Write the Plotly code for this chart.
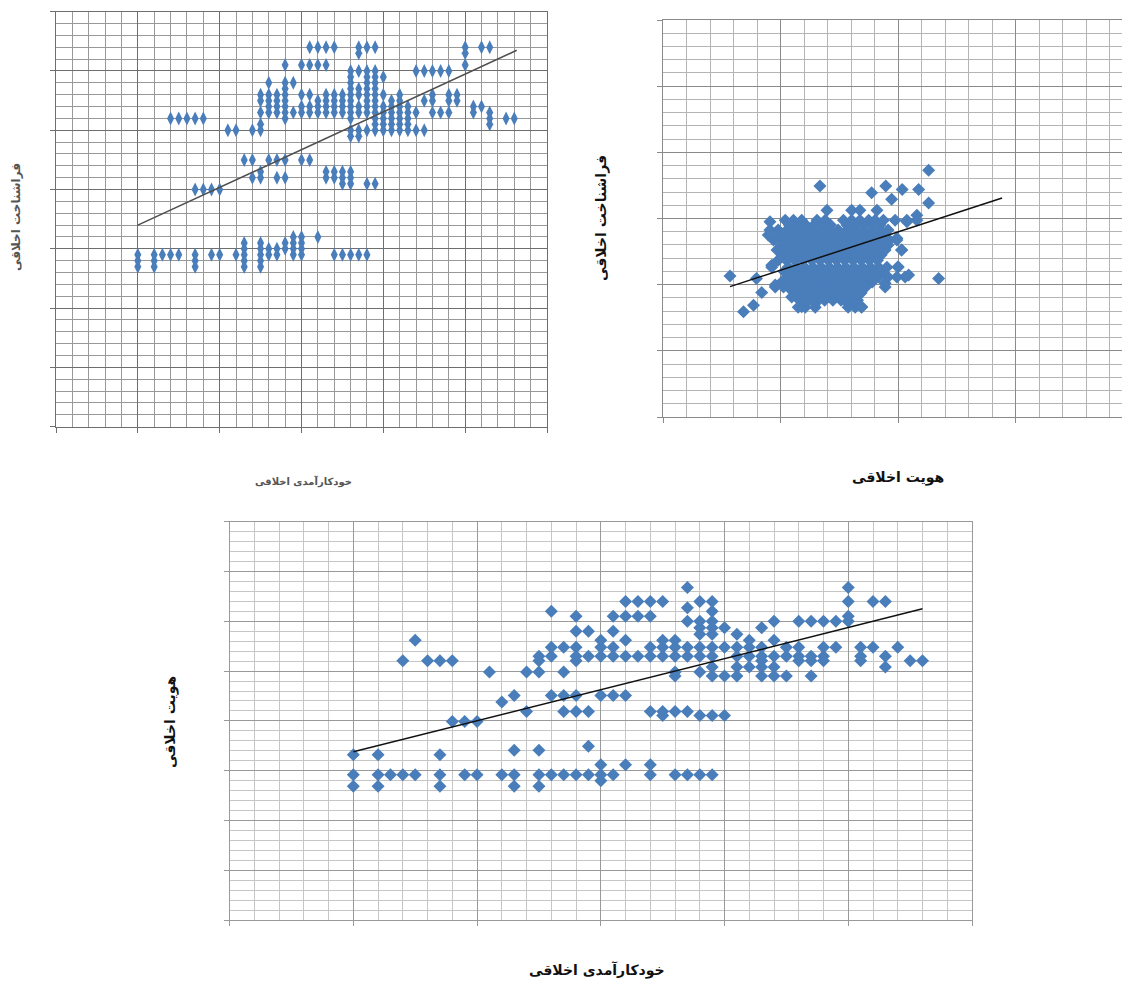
import plotly.graph_objects as go

# ---------------- Chart 1 (top-left): خودکارآمدی اخلاقی vs فراشناخت اخلاقی ----------------
c1_row_y = [64, 63, 61, 60, 59, 58, 57, 56, 55, 54, 53, 52, 51, 50, 49, 45, 43, 42, 41, 40,
            32, 31, 30, 29, 28, 27]
c1_row_x = [
    [31, 32, 33, 34, 37, 38, 39, 50, 52, 53],
    [37, 50],
    [28, 30, 31, 32, 33, 50],
    [36, 37, 38, 39, 44, 45, 46, 47, 48],
    [36, 38, 39, 40],
    [26, 28, 29, 36, 38, 39],
    [28, 36, 37, 38, 39],
    [25, 26, 27, 28, 30, 31, 33, 34, 35, 36, 37, 38, 39, 40, 42, 46, 48, 49],
    [25, 26, 27, 28, 32, 33, 34, 35, 36, 38, 39, 41, 42, 45, 46, 48, 49],
    [26, 27, 28, 30, 31, 32, 33, 34, 35, 36, 37, 38, 39, 40, 41, 42, 43, 51, 52],
    [25, 26, 27, 28, 29, 30, 31, 32, 33, 34, 35, 36, 37, 38, 39, 40, 41, 42, 43, 44, 46, 47, 48, 51, 53],
    [14, 15, 16, 17, 18, 28, 36, 39, 40, 41, 42, 43, 53, 55, 56],
    [25, 39, 40, 41, 42, 43, 53],
    [21, 22, 24, 25, 36, 37, 38, 39, 40, 41, 42, 43, 44, 45],
    [36, 37],
    [23, 24, 26, 27, 28, 30, 31],
    [25, 33, 34, 35, 36],
    [24, 25, 27, 28, 33, 34, 35, 36],
    [35, 36, 38, 39],
    [17, 18, 19, 20],
    [29, 30, 32],
    [23, 25, 28, 29, 30],
    [23, 25, 26, 27, 28, 29, 30],
    [10, 12, 13, 14, 15, 17, 19, 20, 22, 23, 25, 26, 27, 29, 30, 34, 35, 36, 37, 38],
    [10, 12, 17, 23, 25],
    [10, 12, 17, 23, 25],
]
c1_trend_x = [10, 56.3]
c1_trend_y = [34.0, 63.5]

# ---------------- Chart 2 (top-right): هویت اخلاقی vs فراشناخت اخلاقی ----------------
c2_row_y = [62.5, 59.5, 58.0, 56.5, 55.0, 53.5, 52.0, 50.5, 49.0, 47.4, 45.3, 44.0, 42.3,
            40.8, 39.3, 38.4, 37.5, 36.4, 35.3, 33.2]
c2_row_x = [
    [27.9, 32.1, 33.5, 36.4],
    [20.8, 22.2, 23.6, 26.2, 27.6, 30.7, 32.1, 33.5, 35.0, 36.1, 37.5, 39.5, 41.5, 43.2],
    [21.5, 22.9, 24.3, 25.7, 27.1, 28.5, 31.3, 32.7, 34.1, 35.5, 36.9],
    [18.2, 19.6, 21.1, 22.5, 23.9, 25.3, 27.0, 28.4, 29.8, 31.3, 32.7, 34.1, 35.5, 36.9, 38.3],
    [19.5, 20.9, 22.3, 23.7, 25.1, 26.5, 27.9, 29.3, 30.7, 32.1, 33.5, 34.9, 36.3, 37.7],
    [18.8, 20.2, 21.6, 23.0, 24.4, 25.8, 27.2, 28.6, 30.0, 31.4, 32.8, 34.2, 35.7, 37.1, 38.5, 39.8],
    [20.1, 21.5, 22.9, 24.3, 25.7, 27.1, 28.5, 29.9, 31.3, 32.7, 34.1, 35.5, 36.9, 38.3],
    [19.4, 20.8, 22.2, 23.6, 25.0, 26.4, 27.9, 29.3, 30.7, 32.1, 33.5, 34.9, 36.3, 37.8, 40.6],
    [20.3, 21.7, 23.1, 24.5, 25.9, 27.3, 28.7, 30.1, 31.5, 32.9, 34.3, 35.7, 37.1],
    [19.6, 21.0, 22.4, 23.8, 25.3, 26.7, 28.1, 29.5, 30.9, 32.3, 33.7, 35.1, 36.5],
    [18.5, 21.3, 22.7, 24.1, 25.5, 26.9, 28.3, 29.7, 31.1, 32.5, 33.9, 35.3, 36.7, 38.1, 40.0],
    [20.6, 22.0, 23.4, 24.8, 26.2, 27.6, 29.0, 30.4, 31.8, 33.2, 34.6, 36.0, 37.4],
    [21.3, 22.7, 24.1, 25.5, 26.9, 28.3, 29.7, 31.1, 32.5, 33.9, 35.3, 36.7, 38.3, 39.8, 41.2],
    [20.2, 21.6, 23.0, 24.4, 25.8, 27.2, 28.6, 30.0, 31.4, 32.8, 34.2, 35.6],
    [19.1, 20.5, 21.9, 23.3, 24.7, 26.1, 27.5, 28.9, 30.3, 31.7, 33.1, 34.5, 37.8],
    [21.8, 23.2, 24.6, 26.0, 27.4, 28.8, 30.2, 31.6, 33.0],
    [22.5, 23.9, 25.3, 26.7, 28.1, 29.5, 30.9, 32.3, 33.7],
    [22.6, 24.0, 25.4, 26.8, 28.2, 29.6, 31.0, 32.4],
    [23.3, 24.7, 26.1, 27.5, 28.9, 30.3, 31.7, 33.1],
    [23.0, 24.2, 25.9, 31.5, 32.7, 33.8],
]
c2_out_x = [45.2, 26.7, 37.9, 35.5, 40.7, 43.5, 38.9, 45.2, 18.2, 11.4, 46.9, 13.7, 15.4, 16.8,
            15.9, 43.2, 41.5, 41.8, 40.0, 40.6, 39.8, 37.8, 33.8, 31.5, 23.6, 25.9, 21.9, 19.1,
            18.5, 17.9]
c2_out_y = [74.6, 69.8, 69.8, 67.8, 68.8, 68.8, 65.8, 64.7, 59.0, 42.6, 41.9, 31.8, 33.8, 37.6,
            41.9, 61.0, 59.0, 42.9, 45.4, 50.5, 54.0, 40.4, 33.3, 34.3, 33.3, 34.3, 36.3, 39.9,
            45.9, 55.0]
c2_trend_x = [11.4, 57.7]
c2_trend_y = [39.4, 66.2]

# ---------------- Chart 3 (bottom): خودکارآمدی اخلاقی vs هویت اخلاقی ----------------
c3_row_y = [66.8, 64.0, 62.7, 62.0, 61.0, 60.0, 58.7, 58.0, 57.4, 56.2, 54.8, 53.0, 52.1, 50.8,
            49.8, 49.0, 45.1, 43.8, 41.9, 41.1, 39.9, 34.9, 34.1, 33.2, 31.2, 29.2, 28.0, 26.9]
c3_row_x = [
    [37, 50],
    [32, 33, 34, 35, 38, 39, 50, 52, 53],
    [37],
    [26, 39],
    [28, 31, 32, 33, 34, 50],
    [37, 38, 39, 44, 46, 47, 48, 49, 50],
    [38, 39, 40, 43],
    [28, 29, 31],
    [38, 39, 41],
    [15, 30, 32, 35, 36, 42, 44],
    [26, 27, 28, 30, 31, 34, 35, 36, 37, 38, 39, 40, 41, 42, 43, 45, 46, 48, 49, 51, 52, 54],
    [25, 26, 28, 29, 30, 31, 32, 33, 34, 35, 36, 37, 38, 39, 41, 42, 43, 44, 45, 46, 47, 48, 51, 53],
    [14, 16, 17, 18, 25, 28, 43, 46, 47, 48, 51, 55, 56],
    [39, 41, 42, 43, 44, 53],
    [21, 24, 25, 27, 36, 38],
    [36, 39, 40, 41, 43, 44, 45, 47],
    [23, 26, 27, 28, 30, 31, 32],
    [22],
    [24, 27, 28, 29, 34, 35, 36, 37],
    [35, 38, 39, 40],
    [18, 19, 20],
    [29],
    [23, 25],
    [10, 12, 17],
    [30, 32, 34],
    [10, 12, 13, 14, 15, 17, 19, 20, 22, 23, 25, 26, 27, 28, 29, 30, 31, 34, 36, 37, 38, 39],
    [30],
    [10, 12, 17, 23, 25],
]
c3_trend_x = [10, 56]
c3_trend_y = [33.8, 62.5]

# axis titles
t_self_efficacy = "خودکارآمدی اخلاقی"
t_metacognition = "فراشناخت اخلاقی"
t_identity = "هویت اخلاقی"

BLUE = "#4A7EBB"


def flatten(row_y, row_x):
    xs, ys = [], []
    for yv, xl in zip(row_y, row_x):
        for xv in xl:
            xs.append(xv)
            ys.append(yv)
    return xs, ys


x1, y1 = flatten(c1_row_y, c1_row_x)
x2, y2 = flatten(c2_row_y, c2_row_x)
x2 = x2 + c2_out_x
y2 = y2 + c2_out_y
x3, y3 = flatten(c3_row_y, c3_row_x)

W, H = 1122, 986

fig = go.Figure()
fig.add_trace(go.Scatter(x=x1, y=y1, mode="markers", xaxis="x", yaxis="y",
                         marker=dict(symbol="diamond-tall", size=10, color=BLUE, line=dict(width=0)),
                         showlegend=False, hoverinfo="skip"))
fig.add_trace(go.Scatter(x=c1_trend_x, y=c1_trend_y, mode="lines", xaxis="x", yaxis="y",
                         line=dict(color="#505050", width=1.6), showlegend=False, hoverinfo="skip"))
fig.add_trace(go.Scatter(x=x2, y=y2, mode="markers", xaxis="x2", yaxis="y2",
                         marker=dict(symbol="diamond", size=10, color=BLUE, line=dict(width=0)),
                         showlegend=False, hoverinfo="skip"))
fig.add_trace(go.Scatter(x=c2_trend_x, y=c2_trend_y, mode="lines", xaxis="x2", yaxis="y2",
                         line=dict(color="#111111", width=1.5), showlegend=False, hoverinfo="skip"))
fig.add_trace(go.Scatter(x=x3, y=y3, mode="markers", xaxis="x3", yaxis="y3",
                         marker=dict(symbol="diamond", size=10, color=BLUE, line=dict(width=0)),
                         showlegend=False, hoverinfo="skip"))
fig.add_trace(go.Scatter(x=c3_trend_x, y=c3_trend_y, mode="lines", xaxis="x3", yaxis="y3",
                         line=dict(color="#111111", width=1.5), showlegend=False, hoverinfo="skip"))


def axis(domain, rng, dtick, mdtick, major, minor, anchor, mirror=True):
    return dict(domain=domain, range=rng, tick0=0, dtick=dtick, showgrid=True,
                gridcolor=major, gridwidth=1,
                minor=dict(tick0=0, dtick=mdtick, showgrid=True, gridcolor=minor, gridwidth=1),
                showticklabels=False, ticks="outside", ticklen=5, tickcolor=major, tickwidth=1,
                zeroline=False, showline=True, linecolor=major, linewidth=1, mirror=mirror,
                anchor=anchor, fixedrange=True)


fig.update_layout(
    width=W, height=H, margin=dict(l=0, r=0, t=0, b=0), autosize=False,
    paper_bgcolor="white", plot_bgcolor="white",
    xaxis=axis([56 / W, 547 / W], [0, 60], 10, 2, "#6e6e6e", "#989898", "y"),
    yaxis=axis([1 - 426.7 / H, 1 - 11.7 / H], [0, 70], 10, 2, "#6e6e6e", "#989898", "x"),
    xaxis2=axis([663 / W, 1.0], [0, 78.1], 20, 4, "#8a8a8a", "#b4b4b4", "y2"),
    yaxis2=axis([1 - 417 / H, 1 - 20 / H], [0, 120], 20, 4, "#8a8a8a", "#b4b4b4", "x2", mirror=False),
    xaxis3=axis([229.6 / W, 972 / W], [0, 60], 10, 2, "#9a9a9a", "#c6c6c6", "y3"),
    yaxis3=axis([1 - 920.1 / H, 1 - 521.7 / H], [0, 80], 10, 2, "#9a9a9a", "#c6c6c6", "x3"),
)

ann = [
    (t_metacognition, 16, 217, -90, 12, "#555555"),
    (t_self_efficacy, 303, 481, 0, 10, "#555555"),
    (t_metacognition, 601, 218, -90, 14, "#111111"),
    (t_identity, 898, 477, 0, 14, "#111111"),
    (t_identity, 170, 722, -90, 14, "#111111"),
    (t_self_efficacy, 597, 970, 0, 14, "#111111"),
]
for text, px, py, ang, fs, col in ann:
    fig.add_annotation(text="<b>" + text + "</b>", xref="paper", yref="paper",
                       x=px / W, y=1 - py / H, xanchor="center", yanchor="middle",
                       textangle=ang, showarrow=False,
                       font=dict(family="DejaVu Sans", size=fs, color=col))

fig.write_html("out.html", config={"staticPlot": True, "displayModeBar": False},
               post_script="document.body.style.margin='0px';document.body.style.overflow='hidden';")
